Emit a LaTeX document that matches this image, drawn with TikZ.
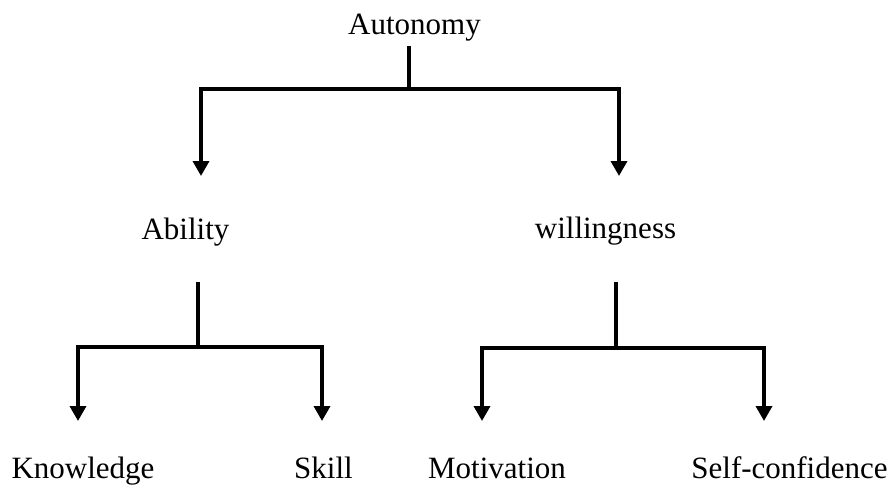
\documentclass[tikz,border=0pt]{standalone}
\usepackage{fontspec}
\setmainfont{Liberation Serif}
\usetikzlibrary{arrows.meta}
\begin{document}
\begin{tikzpicture}[x=1pt,y=-1pt,
  lbl/.style={anchor=base,inner sep=0pt,font=\fontsize{31}{37}\selectfont},
  ln/.style={line width=3.5pt,line join=miter},
  arr/.style={ln,-{Triangle[width=16pt,length=15pt]}}]
\useasboundingbox (0,0) rectangle (895,493);
% labels
\node[lbl] (auto) at (414.5,34) {Autonomy};
\node[lbl] (abil) at (185.5,239) {Ability};
\node[lbl] (will) at (605.5,238) {willingness};
\node[lbl] (know) at (83,478) {Knowledge};
\node[lbl] (skill) at (323.5,478) {Skill};
\node[lbl] (moti) at (497,478) {Motivation};
\node[lbl] (self) at (789.5,478) {Self-confidence};
% connector points
\coordinate (autoS) at (409,46);
\coordinate (autoJ) at (409,89);
\coordinate (abilT) at (201,176);
\coordinate (willT) at (619,176);
\coordinate (abilS) at (198,282);
\coordinate (abilJ) at (198,347);
\coordinate (knowT) at (78,421);
\coordinate (skillT) at (322,421);
\coordinate (willS) at (616,282);
\coordinate (willJ) at (616,348);
\coordinate (motiT) at (482,421);
\coordinate (selfT) at (764,421);
% connectors
\draw[ln] (autoS) -- (autoJ);
\draw[arr] (autoJ) -| (abilT);
\draw[arr] (autoJ) -| (willT);
\draw[ln] (abilS) -- (abilJ);
\draw[arr] (abilJ) -| (knowT);
\draw[arr] (abilJ) -| (skillT);
\draw[ln] (willS) -- (willJ);
\draw[arr] (willJ) -| (motiT);
\draw[arr] (willJ) -| (selfT);
\end{tikzpicture}
\end{document}
